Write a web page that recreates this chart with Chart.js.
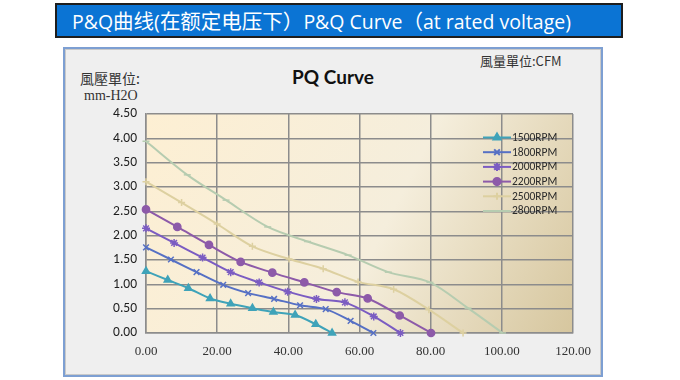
<!DOCTYPE html>
<html>
<head>
<meta charset="utf-8">
<script src="https://cdn.jsdelivr.net/npm/chart.js@4.4.1/dist/chart.umd.min.js"></script>
<style>
  html, body { margin: 0; padding: 0; background: #ffffff; }
  #wrap { position: relative; width: 680px; height: 380px; overflow: hidden; }
  #banner { position: absolute; left: 55px; top: 3px; width: 549px; height: 31px; background: #0b74d4;
            border: 2px solid #1e1e1e; color: #ffffff; font-family: "Open Sans", "Noto Sans CJK SC", sans-serif;
            font-size: 19.5px; line-height: 31px; padding-left: 15px; box-sizing: content-box; white-space: nowrap; overflow: hidden; }
  #banner .cjk { font-family: "Noto Sans CJK SC", sans-serif; font-size: 20.5px; }
  #frame { position: absolute; left: 63px; top: 47px; width: 536px; height: 326px; background: #efefef;
           border: 2px solid #7d9fd2; box-shadow: inset 0 0 0 1px #c9c9c9; }
  .lbl { position: absolute; white-space: nowrap; color: #333; }
  #ytitle1 { left: 80px; top: 68px; font-family: "Noto Sans CJK TC", sans-serif; font-size: 14px; }
  #ytitle2 { left: 84px; top: 88px; font-family: "Liberation Serif", "DejaVu Serif", serif; font-size: 14px; }
  #xunit { left: 480px; top: 51px; font-family: "Noto Sans CJK TC", sans-serif; font-size: 13px; }
  #ctitle { left: 233px; width: 200px; text-align: center; top: 65px; font-family: Lato, "Open Sans", sans-serif;
            font-weight: bold; font-size: 19px; color: #111; }
  canvas { position: absolute; left: 0; top: 0; }
</style>
</head>
<body>
<div id="wrap">
  <div id="banner">P&amp;Q<span class="cjk">曲线</span>(<span class="cjk">在额定电压下）</span>P&amp;Q Curve<span class="cjk">（</span>at rated voltage)</div>
  <div id="frame"></div>
  <div class="lbl" id="ytitle1">風壓單位:</div>
  <div class="lbl" id="ytitle2">mm-H2O</div>
  <div class="lbl" id="xunit">風量單位:CFM</div>
  <div class="lbl" id="ctitle">PQ Curve</div>
  <canvas id="c" width="680" height="380"></canvas>
</div>
<script>
// ---- data (CFM, mm-H2O) ----
const seriesLabels = ["1500RPM", "1800RPM", "2000RPM", "2200RPM", "2500RPM", "2800RPM"];
const xTicks = [0, 20, 40, 60, 80, 100, 120];
const yTicks = [0, 0.5, 1.0, 1.5, 2.0, 2.5, 3.0, 3.5, 4.0, 4.5];

const cfm1500 = [0, 6.1, 11.9, 18.0, 23.8, 29.9, 35.8, 41.9, 47.7, 52.3];
const pa1500  = [1.27, 1.09, 0.92, 0.71, 0.60, 0.51, 0.43, 0.37, 0.18, 0];

const cfm1800 = [0, 7.0, 14.2, 21.7, 28.7, 36.0, 43.3, 50.5, 57.5, 63.9];
const pa1800  = [1.76, 1.51, 1.25, 0.99, 0.82, 0.70, 0.57, 0.49, 0.25, 0];

const cfm2000 = [0, 7.9, 15.9, 23.8, 31.8, 39.8, 47.9, 55.9, 64.0, 71.5];
const pa2000  = [2.15, 1.85, 1.55, 1.25, 1.04, 0.85, 0.70, 0.63, 0.34, 0];

const cfm2200 = [0, 8.8, 17.7, 26.6, 35.5, 44.5, 53.6, 62.3, 71.3, 80.1];
const pa2200  = [2.54, 2.18, 1.81, 1.46, 1.24, 1.04, 0.84, 0.71, 0.36, 0];

const cfm2500 = [0, 10.0, 20.0, 29.9, 40.2, 49.8, 59.6, 69.6, 79.5, 89.1];
const pa2500  = [3.11, 2.68, 2.24, 1.78, 1.52, 1.32, 1.05, 0.90, 0.48, 0];

const cfm2800 = [0, 11.6, 22.5, 34.2, 45.4, 56.8, 68.1, 79.8, 90.5, 100.2];
const pa2800  = [3.94, 3.25, 2.73, 2.18, 1.88, 1.60, 1.25, 1.04, 0.51, 0];

const colors  = ["#3fa3b9", "#5670c4", "#7b5cc2", "#8d5aa9", "#ddd0a0", "#b6ccb0"];
const markers = ["triangle", "crossRot", "star", "circle", "cross", "line"];
const radii   = [4, 4, 4, 3.6, 3.5, 3.5];

const xs = [cfm1500, cfm1800, cfm2000, cfm2200, cfm2500, cfm2800];
const ys = [pa1500, pa1800, pa2000, pa2200, pa2500, pa2800];

function pts(x, y) { return x.map((v, i) => ({ x: v, y: y[i] })); }

const datasets = seriesLabels.map((lab, i) => ({
  label: lab,
  data: pts(xs[i], ys[i]),
  borderColor: colors[i],
  backgroundColor: colors[i],
  pointStyle: markers[i],
  pointRadius: radii[i],
  pointBorderWidth: 1.5,
  borderWidth: 2,
  tension: 0.3,
  showLine: true,
  clip: false
}));

const bgPlugin = {
  id: 'plotBg',
  beforeDraw(chart) {
    const { ctx, chartArea: a } = chart;
    const g = ctx.createLinearGradient(a.left, a.top, a.right, a.bottom);
    g.addColorStop(0, '#fdefd3');
    g.addColorStop(0.55, '#f5eedc');
    g.addColorStop(1, '#d6c69e');
    ctx.save();
    ctx.fillStyle = g;
    ctx.fillRect(a.left, a.top, a.right - a.left, a.bottom - a.top);
    ctx.restore();
  }
};

const legendPlugin = {
  id: 'inLegend',
  afterDatasetsDraw(chart) {
    const ctx = chart.ctx;
    const x0 = 483, x1 = 511, top = 137.5, step = 14.7;
    ctx.save();
    chart.data.datasets.forEach((ds, i) => {
      const y = top + i * step;
      ctx.strokeStyle = ds.borderColor;
      ctx.lineWidth = 2;
      ctx.beginPath(); ctx.moveTo(x0, y); ctx.lineTo(x1, y); ctx.stroke();
      ctx.fillStyle = ds.backgroundColor;
      Chart.helpers.drawPoint(ctx, {
        pointStyle: ds.pointStyle, radius: ds.pointRadius, rotation: 0, borderWidth: 1.5
      }, (x0 + x1) / 2, y);
      ctx.fillStyle = '#2a2a2a';
      ctx.font = '11.5px Carlito, Lato, sans-serif';
      ctx.textBaseline = 'middle';
      ctx.textAlign = 'left';
      ctx.fillText(ds.label, x1 + 1, y + 0.5);
    });
    ctx.restore();
  }
};

new Chart(document.getElementById('c'), {
  type: 'scatter',
  data: { datasets },
  options: {
    responsive: false,
    animation: false,
    layout: { padding: { left: 0, right: 107, top: 114, bottom: 0 } },
    plugins: { legend: { display: false }, tooltip: { enabled: false }, title: { display: false } },
    scales: {
      x: {
        type: 'linear', min: 0, max: 120,
        afterBuildTicks(s) { s.ticks = xTicks.map(v => ({ value: v })); },
        afterFit(s) { s.height = 47; },
        grid: { color: '#8c8c8c', lineWidth: 1.5, drawTicks: false },
        border: { color: '#8c8c8c', width: 1.5 },
        ticks: { padding: 11, color: '#333', font: { family: '"Liberation Serif", serif', size: 13 },
                 callback: v => Number(v).toFixed(2), maxRotation: 0 }
      },
      y: {
        type: 'linear', min: 0, max: 4.5,
        afterBuildTicks(s) { s.ticks = yTicks.map(v => ({ value: v })); },
        afterFit(s) { s.width = 146; },
        grid: { color: '#8c8c8c', lineWidth: 1.5, drawTicks: false },
        border: { color: '#8c8c8c', width: 1.5 },
        ticks: { padding: 9, color: '#1e1e1e', font: { family: 'Carlito, Lato, sans-serif', size: 13.5 },
                 callback: v => Number(v).toFixed(2) }
      }
    }
  },
  plugins: [bgPlugin, legendPlugin]
});
</script>
</body>
</html>
